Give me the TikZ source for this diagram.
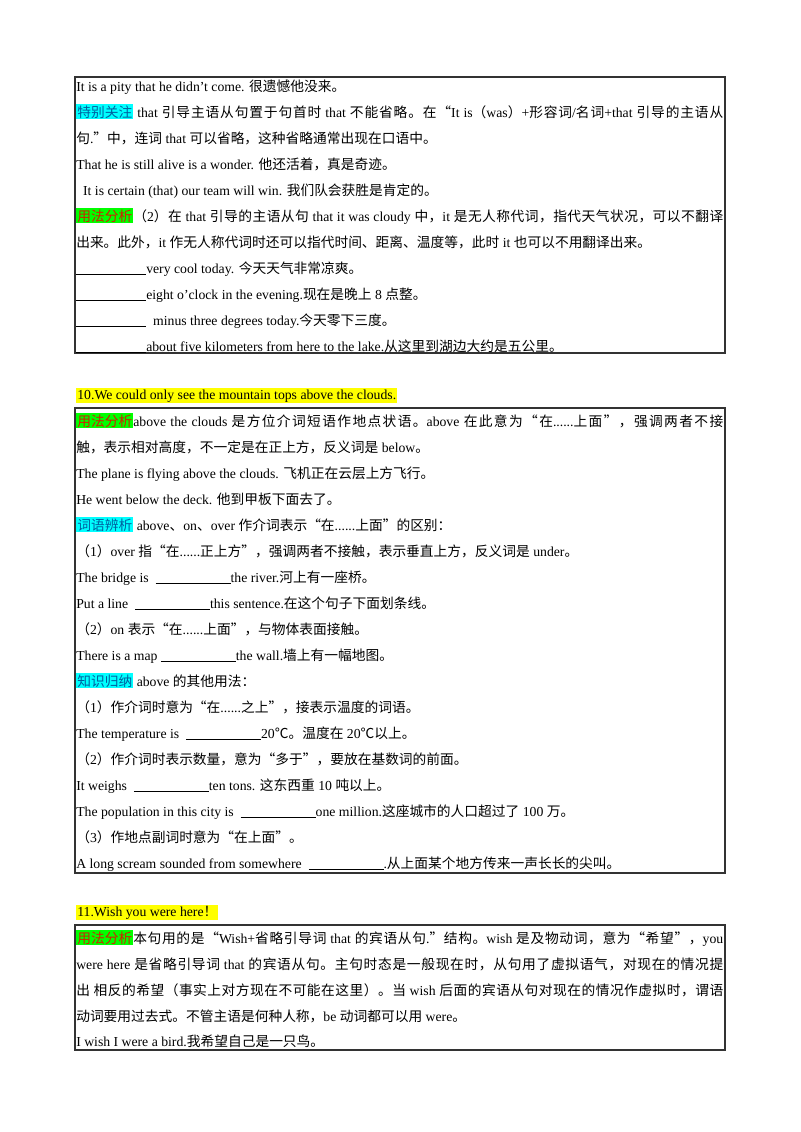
\documentclass[tikz,border=0pt]{standalone}
\usepackage{fontspec}
\setmainfont{Liberation Serif}
\newfontfamily\cjk{Noto Sans CJK SC}
\newfontfamily\lat{Liberation Serif}
\newdimen\px \px=0.75pt
\XeTeXinterchartokenstate=1
\newXeTeXintercharclass\CJKcls
\count255="4E00 \loop \XeTeXcharclass\count255=\CJKcls \ifnum\count255<"9FFF \advance\count255 1 \repeat
\count255="3000 \loop \XeTeXcharclass\count255=\CJKcls \ifnum\count255<"303F \advance\count255 1 \repeat
\count255="FF00 \loop \XeTeXcharclass\count255=\CJKcls \ifnum\count255<"FFEF \advance\count255 1 \repeat
\XeTeXcharclass"201C=\CJKcls \XeTeXcharclass"201D=\CJKcls \XeTeXcharclass"2103=\CJKcls
\XeTeXinterchartoks 0 \CJKcls = {\cjk}
\XeTeXinterchartoks 4095 \CJKcls = {\cjk}
\XeTeXinterchartoks \CJKcls 0 = {\lat}
\XeTeXinterchartoks \CJKcls 4095 = {\lat}
\XeTeXinterchartoks \CJKcls \CJKcls = {\hskip 0pt plus 2pt\relax}
\definecolor{hlgreen}{HTML}{00FF00}
\definecolor{hlcyan}{HTML}{00FFFF}
\definecolor{hlyellow}{HTML}{FFFF00}
\definecolor{lblred}{HTML}{D02000}
\definecolor{lblblue}{HTML}{0060A0}
\newcommand\lgr[1]{{\setlength\fboxsep{0.8pt}\colorbox{hlgreen}{\color{lblred}#1}}}
\newcommand\lcy[1]{{\setlength\fboxsep{0.8pt}\colorbox{hlcyan}{\color{lblblue}#1}}}
\newcommand\lye[1]{{\setlength\fboxsep{0.8pt}\colorbox{hlyellow}{#1}}}
\newcommand\bl[1]{\rule[-1.5pt]{#1\px}{0.5pt}}
\newcommand\jl[1]{\makebox[647\px][s]{#1}}
\begin{document}
\begin{tikzpicture}[x=0.75pt,y=-0.75pt,
  tl/.style={anchor=base west,inner sep=0pt,font=\fontsize{10.3pt}{12pt}\selectfont},
  frame/.style={draw=black!80,line width=1.2pt}]
\useasboundingbox (0,0) rectangle (800,1132);
% box 1
\draw[frame] (75,77) rectangle (725,353);
\node[tl] (a1) at (76,91) {It is a pity that he didn’t come. 很遗憾他没来。};
\node[tl] (a2) at (76,117) {\jl{\lcy{特别关注} that 引导主语从句置于句首时 that 不能省略。在“It is（was）+形容词/名词+that 引导的主语从}};
\node[tl] (a3) at (76,143) {句.”中，连词 that 可以省略，这种省略通常出现在口语中。};
\node[tl] (a4) at (76,169) {That he is still alive is a wonder. 他还活着，真是奇迹。};
\node[tl] (a5) at (76,195) {\ \ It is certain (that) our team will win. 我们队会获胜是肯定的。};
\node[tl] (a6) at (76,221) {\jl{\lgr{用法分析}（2）在 that 引导的主语从句 that it was cloudy 中，it 是无人称代词，指代天气状况，可以不翻译}};
\node[tl] (a7) at (76,247) {出来。此外，it 作无人称代词时还可以指代时间、距离、温度等，此时 it 也可以不用翻译出来。};
\node[tl] (a8) at (76,273) {\bl{70}very cool today. 今天天气非常凉爽。};
\node[tl] (a9) at (76,299) {\bl{70}eight o’clock in the evening.现在是晚上 8 点整。};
\node[tl] (a10) at (76,325) {\bl{70}\ \ minus three degrees today.今天零下三度。};
\node[tl] (a11) at (76,351) {\bl{70}about five kilometers from here to the lake.从这里到湖边大约是五公里。};
% box 2
\node[tl] (t2) at (76,399) {\lye{10.We could only see the mountain tops above the clouds.}};
\draw[frame] (75,408) rectangle (725,873);
\node[tl] (b1) at (76,426) {\jl{\lgr{用法分析}above the clouds 是方位介词短语作地点状语。above 在此意为“在......上面”，强调两者不接}};
\node[tl] (b2) at (76,452) {触，表示相对高度，不一定是在正上方，反义词是 below。};
\node[tl] (b3) at (76,478) {The plane is flying above the clouds. 飞机正在云层上方飞行。};
\node[tl] (b4) at (76,504) {He went below the deck. 他到甲板下面去了。};
\node[tl] (b5) at (76,530) {\lcy{词语辨析} above、on、over 作介词表示“在......上面”的区别：};
\node[tl] (b6) at (76,556) {（1）over 指“在......正上方”，强调两者不接触，表示垂直上方，反义词是 under。};
\node[tl] (b7) at (76,582) {The bridge is \ \bl{75}the river.河上有一座桥。};
\node[tl] (b8) at (76,608) {Put a line \ \bl{75}this sentence.在这个句子下面划条线。};
\node[tl] (b9) at (76,634) {（2）on 表示“在......上面”，与物体表面接触。};
\node[tl] (b10) at (76,660) {There is a map \bl{75}the wall.墙上有一幅地图。};
\node[tl] (b11) at (76,686) {\lcy{知识归纳} above 的其他用法：};
\node[tl] (b12) at (76,712) {（1）作介词时意为“在......之上”，接表示温度的词语。};
\node[tl] (b13) at (76,738) {The temperature is \ \bl{75}20℃。温度在 20℃以上。};
\node[tl] (b14) at (76,764) {（2）作介词时表示数量，意为“多于”，要放在基数词的前面。};
\node[tl] (b15) at (76,790) {It weighs \ \bl{75}ten tons. 这东西重 10 吨以上。};
\node[tl] (b16) at (76,816) {The population in this city is \ \bl{75}one million.这座城市的人口超过了 100 万。};
\node[tl] (b17) at (76,842) {（3）作地点副词时意为“在上面”。};
\node[tl] (b18) at (76,868) {A long scream sounded from somewhere \ \bl{75}.从上面某个地方传来一声长长的尖叫。};
% box 3
\node[tl] (t3) at (76,916) {\lye{11.Wish you were here！}};
\draw[frame] (75,925) rectangle (725,1050);
\node[tl] (c1) at (76,943) {\jl{\lgr{用法分析}本句用的是“Wish+省略引导词 that 的宾语从句.”结构。wish 是及物动词，意为“希望”，you}};
\node[tl] (c2) at (76,969) {\jl{were here 是省略引导词 that 的宾语从句。主句时态是一般现在时，从句用了虚拟语气，对现在的情况提}};
\node[tl] (c3) at (76,995) {\jl{出 相反的希望（事实上对方现在不可能在这里）。当 wish 后面的宾语从句对现在的情况作虚拟时，谓语}};
\node[tl] (c4) at (76,1021) {动词要用过去式。不管主语是何种人称，be 动词都可以用 were。};
\node[tl] (c5) at (76,1046) {I wish I were a bird.我希望自己是一只鸟。};
\end{tikzpicture}
\end{document}
